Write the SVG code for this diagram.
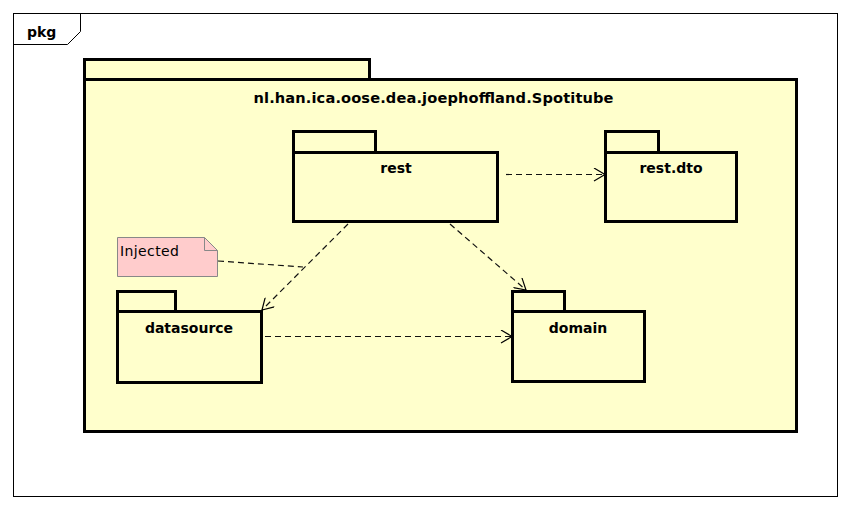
<svg xmlns="http://www.w3.org/2000/svg" width="852" height="510" viewBox="0 0 852 510">
<style>
.pk{fill:#FFFFCC;stroke:#000;stroke-width:3}
.lbl{font-family:"DejaVu Sans",sans-serif;font-weight:bold;font-size:14px;fill:#000;text-anchor:middle}
.dep{fill:none;stroke:#111;stroke-width:1.2;stroke-dasharray:6,4}
</style>
<defs>
<marker id="open" markerWidth="14" markerHeight="14" refX="12" refY="7" orient="auto" markerUnits="userSpaceOnUse">
<path d="M1,0.5 L12,7 L1,13.5" fill="none" stroke="#000" stroke-width="1.2"/>
</marker>
</defs>
<rect x="0" y="0" width="852" height="510" fill="#fff"/>
<g id="frame">
<rect x="13.5" y="13.5" width="824" height="483" fill="#fff" stroke="#000" stroke-width="1"/>
<path d="M13.5,44.5 H67.5 L80.5,31.5 V13.5" fill="none" stroke="#000" stroke-width="1"/>
<text x="27" y="37" style="font-family:'DejaVu Sans',sans-serif;font-weight:bold;font-size:14px">pkg</text>
</g>
<g id="spotitube">
<rect class="pk" x="84.5" y="59.5" width="285" height="20"/>
<rect class="pk" x="84.5" y="79.5" width="712" height="352"/>
<text class="lbl" x="433.5" y="103" style="font-size:14.6px" textLength="360" lengthAdjust="spacing">nl.han.ica.oose.dea.joephoffland.Spotitube</text>
</g>
<g id="rest">
<rect class="pk" x="293.5" y="131.5" width="82" height="21"/>
<rect class="pk" x="293.5" y="152.5" width="204" height="69"/>
<text class="lbl" x="396" y="173">rest</text>
</g>
<g id="restdto">
<rect class="pk" x="605.5" y="131.5" width="53" height="21"/>
<rect class="pk" x="605.5" y="152.5" width="131" height="69"/>
<text class="lbl" x="671" y="173">rest.dto</text>
</g>
<g id="datasource">
<rect class="pk" x="117.5" y="291.5" width="58" height="20"/>
<rect class="pk" x="117.5" y="311.5" width="144" height="71"/>
<text class="lbl" x="189" y="333">datasource</text>
</g>
<g id="domain">
<rect class="pk" x="512.5" y="291.5" width="52" height="20"/>
<rect class="pk" x="512.5" y="311.5" width="132" height="70"/>
<text class="lbl" x="578" y="333">domain</text>
</g>
<g id="note">
<path d="M117.5,237.5 H204.5 L217.5,250.5 V276.5 H117.5 Z" fill="#FFCCCC" stroke="#888" stroke-width="1"/>
<path d="M204.5,237.5 V250.5 H217.5" fill="none" stroke="#888" stroke-width="1"/>
<text x="120" y="256" style="font-family:'DejaVu Sans',sans-serif;font-size:14px" textLength="59" lengthAdjust="spacing">Injected</text>
</g>
<g id="connectors">
<line class="dep" x1="506" y1="174.5" x2="605" y2="174.5" marker-end="url(#open)"/>
<line class="dep" x1="348" y1="224" x2="262" y2="310" marker-end="url(#open)"/>
<line class="dep" x1="450" y1="224" x2="526" y2="290" marker-end="url(#open)"/>
<line class="dep" x1="265" y1="336.5" x2="512" y2="336.5" marker-end="url(#open)"/>
<line class="dep" x1="218" y1="261" x2="303" y2="267"/>
</g>
</svg>
